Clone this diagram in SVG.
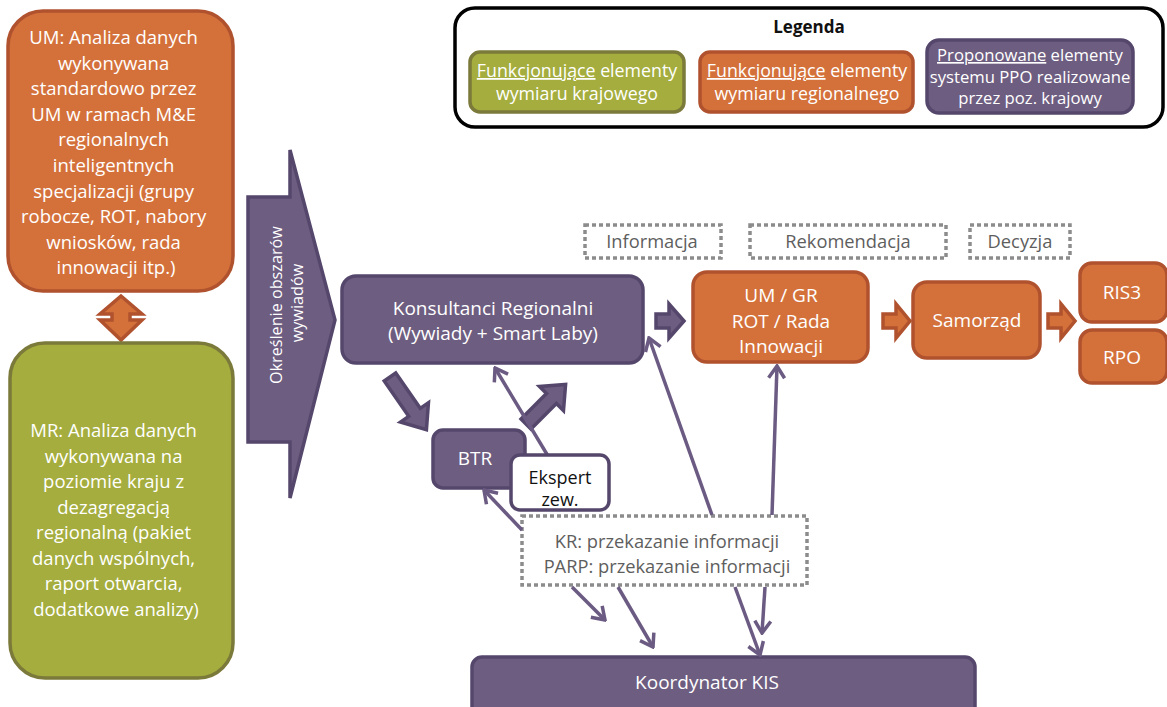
<svg xmlns="http://www.w3.org/2000/svg" width="1167" height="707" viewBox="0 0 1167 707">
<defs>
<style>
text{font-family:'Open Sans','Noto Sans',sans-serif;}
.or{fill:#D4713B;stroke:#B0522E;stroke-width:3.5;}
.gr{fill:#A4AD3D;stroke:#7B7A3A;stroke-width:3.5;}
.pu{fill:#6D5D80;stroke:#55476C;stroke-width:3.5;}
.wl{fill:#fff;font-size:19px;text-anchor:middle;}
.lg{font-size:17.8px;}
.lp{font-size:16.7px;}
.bx{font-size:18.5px;}
.rt{font-size:16.2px;}
.dash{fill:#fff;stroke:#8C8C8C;stroke-width:3.5;stroke-dasharray:4 3;}
.gt{fill:#5E5E5E;font-size:18.3px;text-anchor:middle;}
.ln{fill:none;stroke:#6B5B83;stroke-width:3.5;marker-end:url(#ah);}
</style>
<marker id="ah" viewBox="-14 -10 16 20" refX="0" refY="0" markerWidth="16" markerHeight="20" markerUnits="userSpaceOnUse" orient="auto">
<path d="M-12,-8 L0,0 L-12,8" fill="none" stroke="#6B5B83" stroke-width="3.5"/>
</marker>
</defs>

<g id="legend">
<rect x="455" y="8" width="708" height="119" rx="20" fill="#fff" stroke="#000" stroke-width="3.5"/>
<text x="809" y="33" font-size="17" font-weight="bold" text-anchor="middle" fill="#111">Legenda</text>
<rect class="gr" x="470" y="52" width="214" height="60" rx="10"/>
<text class="wl lg" x="577" y="77"><tspan text-decoration="underline">Funkcjonujące</tspan> elementy</text>
<text class="wl lg" x="577" y="100">wymiaru krajowego</text>
<rect class="or" x="700" y="52" width="213" height="60" rx="10"/>
<text class="wl lg" x="807" y="77"><tspan text-decoration="underline">Funkcjonujące</tspan> elementy</text>
<text class="wl lg" x="807" y="100">wymiaru regionalnego</text>
<rect class="pu" x="927" y="40" width="206" height="73" rx="12"/>
<text class="wl lp" x="1030" y="61"><tspan text-decoration="underline">Proponowane</tspan> elementy</text>
<text class="wl lp" x="1030" y="83">systemu PPO realizowane</text>
<text class="wl lp" x="1030" y="104">przez poz. krajowy</text>
</g>

<g id="um-analiza">
<rect class="or" x="8" y="11" width="225" height="280" rx="35"/>
<text class="wl bx">
<tspan x="116" y="44">UM: Analiza danych</tspan>
<tspan x="116" y="69.6">wykonywana</tspan>
<tspan x="116" y="95.2">standardowo przez</tspan>
<tspan x="116" y="120.8">UM w ramach M&amp;E</tspan>
<tspan x="116" y="146.4">regionalnych</tspan>
<tspan x="116" y="172">inteligentnych</tspan>
<tspan x="116" y="197.6">specjalizacji (grupy</tspan>
<tspan x="116" y="223.2">robocze, ROT, nabory</tspan>
<tspan x="116" y="248.8">wniosków, rada</tspan>
<tspan x="116" y="274.4">innowacji itp.)</tspan>
</text>
</g>

<g id="double-arrow">
<polygon class="or" stroke-width="2.5" points="121,296 142,314 130,314 130,320 142,320 121,340 100,320 112,320 112,314 100,314"/>
</g>

<g id="mr-analiza">
<rect class="gr" x="10" y="343" width="223" height="335" rx="35"/>
<text class="wl bx">
<tspan x="116" y="437">MR: Analiza danych</tspan>
<tspan x="116" y="462.5">wykonywana na</tspan>
<tspan x="116" y="488">poziomie kraju z</tspan>
<tspan x="116" y="513.5">dezagregacją</tspan>
<tspan x="116" y="539">regionalną (pakiet</tspan>
<tspan x="116" y="564.5">danych wspólnych,</tspan>
<tspan x="116" y="590">raport otwarcia,</tspan>
<tspan x="116" y="615.5">dodatkowe analizy)</tspan>
</text>
</g>

<g id="okreslenie">
<path class="pu" d="M248,197 L290,197 L290,150 L335,320 L290,498 L290,442 L248,442 Z"/>
<text class="wl rt" transform="rotate(-90)">
<tspan x="-303" y="282">Określenie obszarów</tspan>
<tspan x="-303" y="303">wywiadów</tspan>
</text>
</g>

<g id="konsultanci">
<rect class="pu" x="342" y="276" width="301" height="87" rx="14"/>
<text class="wl" x="493" y="315">Konsultanci Regionalni</text>
<text class="wl" x="493" y="340">(Wywiady + Smart Laby)</text>
</g>

<g id="label-informacja">
<rect class="dash" x="585" y="225" width="136" height="33"/>
<text class="gt" x="652" y="248">Informacja</text>
</g>
<g id="label-rekomendacja">
<rect class="dash" x="750" y="225" width="196" height="33"/>
<text class="gt" x="848" y="248">Rekomendacja</text>
</g>
<g id="label-decyzja">
<rect class="dash" x="970" y="225" width="100" height="33"/>
<text class="gt" x="1020" y="248">Decyzja</text>
</g>

<g id="um-gr">
<rect class="or" x="693" y="272" width="175" height="90" rx="14"/>
<text class="wl" x="781" y="302">UM / GR</text>
<text class="wl" x="781" y="328">ROT / Rada</text>
<text class="wl" x="781" y="353">Innowacji</text>
</g>

<g id="samorzad">
<rect class="or" x="913" y="282" width="127" height="76" rx="14"/>
<text class="wl" x="977" y="327">Samorząd</text>
</g>

<g id="ris3">
<rect class="or" x="1080" y="263" width="87" height="59" rx="12"/>
<text class="wl" x="1122" y="299">RIS3</text>
</g>
<g id="rpo">
<rect class="or" x="1080" y="330" width="87" height="53" rx="12"/>
<text class="wl" x="1122" y="364">RPO</text>
</g>

<g id="btr">
<rect class="pu" x="433" y="430" width="92" height="58" rx="10"/>
<text class="wl" x="475" y="465">BTR</text>
</g>

<g id="koordynator">
<rect class="pu" x="472" y="657" width="503" height="60" rx="10"/>
<text class="wl" x="707" y="689">Koordynator KIS</text>
</g>

<g id="kr-parp">
<rect class="dash" x="522" y="516" width="285" height="69"/>
<text class="gt" x="667" y="548">KR: przekazanie informacji</text>
<text class="gt" x="667" y="573">PARP: przekazanie informacji</text>
</g>

<g id="connectors">
<g class="pu" stroke-width="3">
<polygon transform="translate(390,377) rotate(55.3)" points="0,-7 43,-7 43,-17 64,0 43,17 43,7 0,7"/>
<polygon transform="translate(526,424) rotate(-45)" points="0,-7 36,-7 36,-17 56,0 36,17 36,7 0,7"/>
<polygon points="656,314 669,314 669,304 684,321 669,338 669,328 656,328"/>
</g>
<g class="or" stroke-width="3">
<polygon points="883,314 896,314 896,304 910,321 896,338 896,328 883,328"/>
<polygon points="1048,314 1061,314 1061,304 1075,321 1061,338 1061,328 1048,328"/>
</g>
<line class="ln" x1="548" y1="456" x2="495" y2="368"/>
<line class="ln" x1="712" y1="515" x2="649" y2="338"/>
<line class="ln" x1="772" y1="515" x2="777" y2="366"/>
<line class="ln" x1="522" y1="530" x2="484" y2="490"/>
<line class="ln" x1="572" y1="587" x2="605" y2="620"/>
<line class="ln" x1="618" y1="587" x2="653" y2="647"/>
<line class="ln" x1="735" y1="587" x2="760" y2="655"/>
<line class="ln" x1="765" y1="587" x2="762" y2="633"/>
</g>

<g id="ekspert">
<rect x="511" y="455" width="98" height="55" rx="9" fill="#fff" stroke="#55476C" stroke-width="3.5"/>
<text x="560" y="484" font-size="18" text-anchor="middle" fill="#111">Ekspert</text>
<text x="560" y="506" font-size="18" text-anchor="middle" fill="#111">zew.</text>
</g>
</svg>
